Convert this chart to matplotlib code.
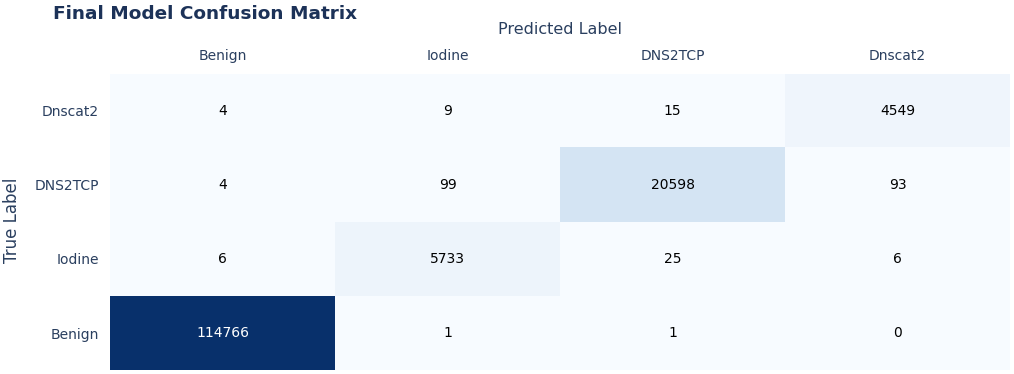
import numpy as np
import matplotlib.pyplot as plt

plt.rcParams['font.family'] = ['DejaVu Sans']

classes = ['Benign', 'Iodine', 'DNS2TCP', 'Dnscat2']
# rows = true label (Benign first, drawn at bottom), cols = predicted label
cm_benign = [114766, 1, 1, 0]
cm_iodine = [6, 5733, 25, 6]
cm_dns2tcp = [4, 99, 20598, 93]
cm_dnscat2 = [4, 9, 15, 4549]

cm = np.array([cm_benign, cm_iodine, cm_dns2tcp, cm_dnscat2])

W, H = 1014, 374
fig = plt.figure(figsize=(W / 100, H / 100), dpi=100)
ax = fig.add_axes([110 / W, 4 / H, 900 / W, 296 / H])

ax.imshow(cm, cmap='Blues', origin='lower', aspect='auto',
          vmin=0, vmax=cm.max(), interpolation='nearest')

vmax = cm.max()
for i in range(cm.shape[0]):
    for j in range(cm.shape[1]):
        col = 'white' if cm[i, j] > vmax * 0.5 else 'black'
        ax.text(j, i, str(cm[i, j]), ha='center', va='center',
                fontsize=10, color=col)

ax.set_xticks(range(len(classes)))
ax.set_xticklabels(classes, fontsize=10, color='#2a3f5f')
ax.set_yticks(range(len(classes)))
ax.set_yticklabels(classes, fontsize=10, color='#2a3f5f')
ax.xaxis.tick_top()
ax.tick_params(length=0, pad=8)
for s in ax.spines.values():
    s.set_visible(False)

fig.text(560 / W, 1 - 30 / H, 'Predicted Label', ha='center', va='center',
         fontsize=11.5, color='#2a3f5f')
fig.text(12 / W, 1 - 220 / H, 'True Label', ha='center', va='center',
         rotation=90, fontsize=12, color='#2a3f5f')
fig.text(53 / W, 1 - 14 / H, 'Final Model Confusion Matrix', ha='left',
         va='center', fontsize=13.3, fontweight='bold', color='#1c3258')

fig.savefig('out.png', dpi=100)
